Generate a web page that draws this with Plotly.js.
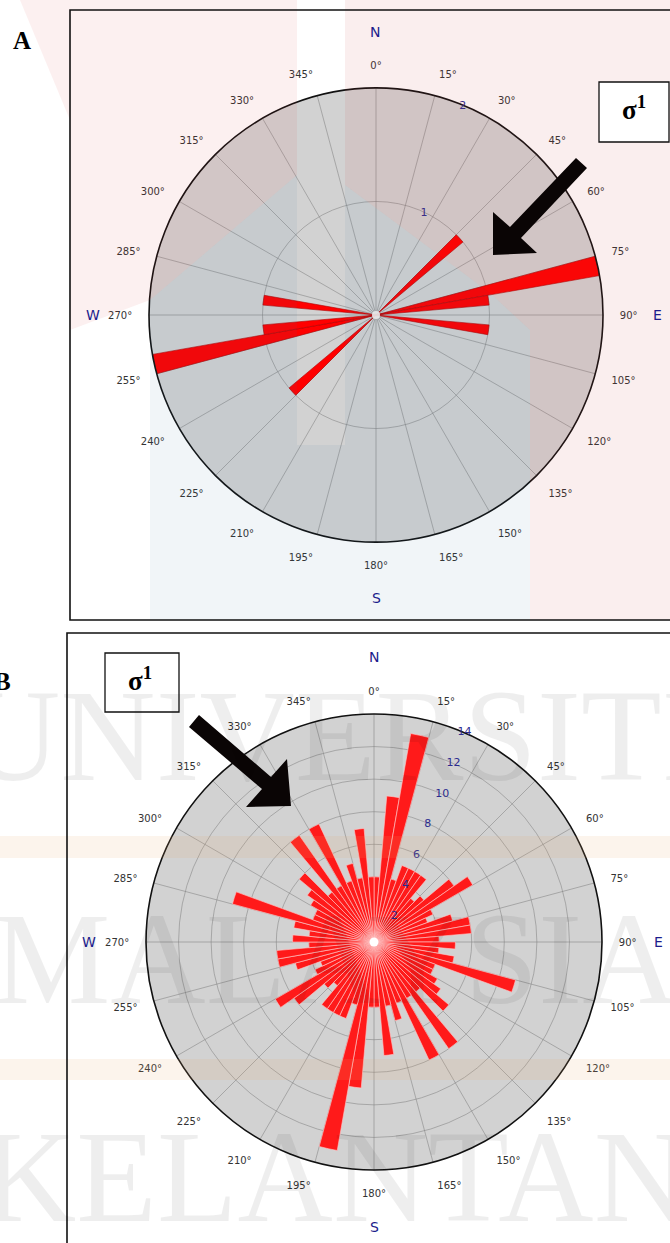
<!DOCTYPE html>
<html>
<head>
<meta charset="utf-8">
<script src="https://cdn.plot.ly/plotly-3.0.1.min.js"></script>
<style>html,body{margin:0;padding:0;background:#fff;}#chart{width:670px;height:1243px;}</style>
</head>
<body>
<div id="chart"></div>
<script>
// 5-degree bin centres (degrees clockwise from north)
const binCenters = [2.5,7.5,12.5,17.5,22.5,27.5,32.5,37.5,42.5,47.5,52.5,57.5,62.5,67.5,72.5,77.5,82.5,87.5,
  92.5,97.5,102.5,107.5,112.5,117.5,122.5,127.5,132.5,137.5,142.5,147.5,152.5,157.5,162.5,167.5,172.5,177.5,
  182.5,187.5,192.5,197.5,202.5,207.5,212.5,217.5,222.5,227.5,232.5,237.5,242.5,247.5,252.5,257.5,262.5,267.5,
  272.5,277.5,282.5,287.5,292.5,297.5,302.5,307.5,312.5,317.5,322.5,327.5,332.5,337.5,342.5,347.5,352.5,357.5];

// Rose A counts per bin
const countsA = [0,0,0,0,0,0,0,0,0,1,0,0,0,0,0,2,1,0,
  0,1,0,0,0,0,0,0,0,0,0,0,0,0,0,0,0,0,
  0,0,0,0,0,0,0,0,0,1,0,0,0,0,0,2,1,0,
  0,1,0,0,0,0,0,0,0,0,0,0,0,0,0,0,0,0];

// Rose B counts per bin
const countsB = [4,9,13,4,5,5,5,5,3.5,4,6,7,4,3.5,5,6,6,4,
  5,4,5,9,4,4,4.5,5,6,4,8,4,8,4,5,4,7,4,
  4,9,13,4,5,5,5,5,3.5,4,6,7,4,3.5,5,6,6,4,
  5,4,5,9,4,4,4.5,5,6,4,8,4,8,4,5,4,7,4];

const ticksA = [1, 2];
const ticksB = [2, 4, 6, 8, 10, 12, 14];
const compass = ['N', 'E', 'S', 'W'];

const W = 670, H = 1243;
const px = (x) => x / W;
const py = (y) => 1 - y / H;
const path = (pts) => 'M' + pts.map(p => px(p[0]).toFixed(5) + ',' + py(p[1]).toFixed(5)).join(' L') + ' Z';

const traceA = {
  type: 'barpolar', subplot: 'polar', theta: binCenters, r: countsA, width: 5,
  marker: {color: '#ff0000', line: {color: '#b00000', width: 0.6}}, hoverinfo: 'none'
};
const traceB = {
  type: 'barpolar', subplot: 'polar2', theta: binCenters, r: countsB, width: 5,
  marker: {color: '#ff1a1a', line: {color: 'rgba(255,200,200,0.9)', width: 0.7}}, hoverinfo: 'none'
};

const angAxis = {
  rotation: 90, direction: 'clockwise', tickmode: 'linear', tick0: 0, dtick: 15,
  ticksuffix: '°', ticks: 'outside', ticklen: 14, tickcolor: 'rgba(0,0,0,0)',
  tickfont: {family: 'DejaVu Sans', size: 10, color: '#333'},
  showline: true, linecolor: '#111', linewidth: 1.6,
  gridcolor: 'rgba(130,130,130,0.55)', gridwidth: 1
};
function radAxis(maxv, ticks) {
  return {
    range: [0, maxv], tickmode: 'array', tickvals: ticks, ticktext: ticks.map(String),
    angle: 70, side: 'clockwise', showline: false, ticks: '', tickangle: 70,
    tickfont: {family: 'DejaVu Sans', size: 11, color: '#2b2b8f'},
    gridcolor: 'rgba(130,130,130,0.55)', gridwidth: 1
  };
}

const sigmaFont = {family: 'Liberation Serif', size: 27, color: '#000'};
const compassFont = {family: 'DejaVu Sans', size: 14, color: '#1c1c8c'};
const wmFont = {family: 'Liberation Serif', size: 132, color: 'rgba(0,0,0,0.065)'};

function note(text, x, y, font, extra) {
  return Object.assign({text: text, x: px(x), y: py(y), xref: 'paper', yref: 'paper',
    xanchor: 'center', yanchor: 'middle', showarrow: false, font: font}, extra || {});
}

const annotations = [
  // watermark text (drawn first)
  note('UNIVERSITI', 335, 735, wmFont),
  note('MALAYSIA', 335, 958, wmFont),
  note('KELANTAN', 335, 1176, wmFont),
  note('<b>A</b>', 22, 40, {family: 'Liberation Serif', size: 25, color: '#000'}),
  note('<b>B</b>', 13, 681, {family: 'Liberation Serif', size: 25, color: '#000'}, {xanchor: 'right'}),
  note('<b>σ<sup>1</sup></b>', 634, 108, sigmaFont),
  note('<b>σ<sup>1</sup></b>', 140, 679, sigmaFont),
  // compass letters A
  note(compass[0], 375, 32, compassFont),
  note(compass[1], 657, 315, compassFont),
  note(compass[2], 376, 598, compassFont),
  note(compass[3], 93, 315, compassFont),
  // compass letters B
  note(compass[0], 374, 657, compassFont),
  note(compass[1], 658, 942, compassFont),
  note(compass[2], 374, 1227, compassFont),
  note(compass[3], 89, 942, compassFont)
];

const shapes = [
  // watermark tints (panel A logo)
  {type: 'path', xref: 'paper', yref: 'paper', layer: 'above', line: {width: 0}, fillcolor: 'rgba(210,60,60,0.075)',
   path: path([[20,0],[297,0],[297,175],[150,300],[70,330],[70,120]])},
  {type: 'path', xref: 'paper', yref: 'paper', layer: 'above', line: {width: 0}, fillcolor: 'rgba(200,70,70,0.09)',
   path: path([[345,0],[670,0],[670,620],[530,620],[530,330],[490,293],[345,185]])},
  {type: 'path', xref: 'paper', yref: 'paper', layer: 'above', line: {width: 0}, fillcolor: 'rgba(60,110,160,0.07)',
   path: path([[150,300],[297,175],[297,445],[345,445],[345,185],[490,293],[530,330],[530,620],[150,620]])},
  // watermark bands (panel B)
  {type: 'rect', xref: 'paper', yref: 'paper', layer: 'above', line: {width: 0}, fillcolor: 'rgba(235,170,110,0.13)',
   x0: 0, x1: 1, y0: py(858), y1: py(836)},
  {type: 'rect', xref: 'paper', yref: 'paper', layer: 'above', line: {width: 0}, fillcolor: 'rgba(235,170,110,0.13)',
   x0: 0, x1: 1, y0: py(1080), y1: py(1059)},
  // centre dots
  {type: 'circle', xref: 'paper', yref: 'paper', layer: 'above', line: {width: 0}, fillcolor: 'rgba(235,235,235,0.9)',
   x0: px(372), x1: px(380), y0: py(319), y1: py(311)},
  {type: 'circle', xref: 'paper', yref: 'paper', layer: 'above', line: {width: 0}, fillcolor: '#ffffff',
   x0: px(369.5), x1: px(378.5), y0: py(946.5), y1: py(937.5)},
  // panel frames
  {type: 'rect', xref: 'paper', yref: 'paper', layer: 'above', line: {color: '#111', width: 1.6}, fillcolor: 'rgba(0,0,0,0)',
   x0: px(70), x1: px(672), y0: py(620), y1: py(10)},
  {type: 'rect', xref: 'paper', yref: 'paper', layer: 'above', line: {color: '#111', width: 1.6}, fillcolor: 'rgba(0,0,0,0)',
   x0: px(67), x1: px(672), y0: py(1250), y1: py(633)},
  // sigma boxes
  {type: 'rect', xref: 'paper', yref: 'paper', layer: 'above', line: {color: '#111', width: 1.3}, fillcolor: '#fff',
   x0: px(599), x1: px(669), y0: py(142), y1: py(82)},
  {type: 'rect', xref: 'paper', yref: 'paper', layer: 'above', line: {color: '#111', width: 1.3}, fillcolor: '#fff',
   x0: px(105), x1: px(179), y0: py(712), y1: py(653)},
  // arrows
  {type: 'path', xref: 'paper', yref: 'paper', layer: 'above', line: {width: 0}, fillcolor: '#0a0505',
   path: path([[576,158],[587,168],[521,238],[537,253],[493,255],[493,212],[510,227]])},
  {type: 'path', xref: 'paper', yref: 'paper', layer: 'above', line: {width: 0}, fillcolor: '#0a0505',
   path: path([[199,715],[271,777],[287,759],[291,806],[246,807],[262,789],[189,727]])}
];

const layout = {
  width: W, height: H, margin: {l: 0, r: 0, t: 0, b: 0},
  paper_bgcolor: '#ffffff', showlegend: false, dragmode: false,
  polar: {
    domain: {x: [149 / W, 603 / W], y: [1 - 542 / H, 1 - 88 / H]},
    bgcolor: '#d2d2d2', bargap: 0,
    angularaxis: angAxis, radialaxis: radAxis(2, ticksA)
  },
  polar2: {
    domain: {x: [146 / W, 602 / W], y: [1 - 1170 / H, 1 - 714 / H]},
    bgcolor: '#d2d2d2', bargap: 0,
    angularaxis: angAxis, radialaxis: radAxis(14, ticksB)
  },
  annotations: annotations,
  shapes: shapes
};

Plotly.newPlot('chart', [traceA, traceB], layout, {staticPlot: true, displayModeBar: false});
</script>
</body>
</html>
